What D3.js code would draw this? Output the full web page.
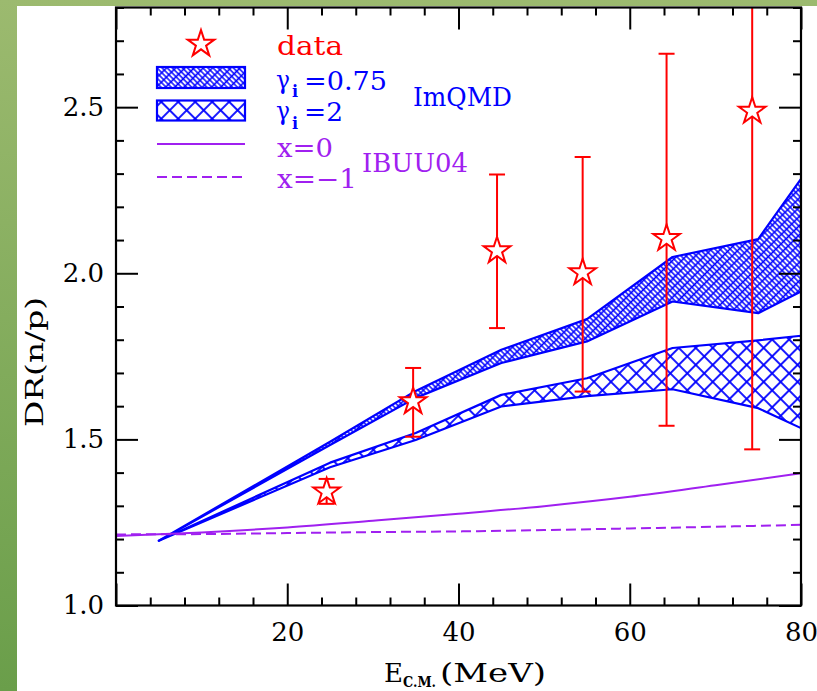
<!DOCTYPE html>
<html>
<head>
<meta charset="utf-8">
<script src="https://cdn.jsdelivr.net/npm/d3@7"></script>
<style>
  html, body { margin: 0; padding: 0; background: #ffffff; }
  svg { display: block; }
</style>
</head>
<body>
<div id="chart"></div>
<script>
// ---- data ----
// measured neutron/proton double ratio
const dataE  = [24.6, 34.7, 44.5, 54.5, 64.3, 74.3];
const dataDR = [1.342, 1.614, 2.068, 2.002, 2.105, 2.488];
const dataLo = [1.306, 1.508, 1.835, 1.644, 1.541, 1.470];
const dataHi = [1.381, 1.715, 2.297, 2.350, 2.661, 3.300];

// ImQMD bands
const simE    = [5, 25, 35, 45, 55, 65, 75, 80];
const g075Lo  = [1.195, 1.483, 1.625, 1.730, 1.795, 1.915, 1.880, 1.945];
const g075Hi  = [1.195, 1.493, 1.646, 1.770, 1.862, 2.049, 2.103, 2.284];
const g2Lo    = [1.195, 1.416, 1.498, 1.599, 1.630, 1.651, 1.594, 1.534];
const g2Hi    = [1.195, 1.430, 1.519, 1.634, 1.684, 1.775, 1.798, 1.812];

// IBUU04 curves
const ibuuE = [0, 10, 20, 30, 40, 50, 60, 70, 80];
const x0DR  = [1.209, 1.220, 1.235, 1.255, 1.276, 1.299, 1.327, 1.362, 1.398];
const xm1DR = [1.214, 1.215, 1.218, 1.221, 1.223, 1.227, 1.232, 1.237, 1.243];

// axis ticks
const xMajor = [0, 20, 40, 60, 80];
const xMinor = d3.range(0, 81, 4).filter(v => v % 20 !== 0);
const yMajor = [1.0, 1.5, 2.0, 2.5];
const yMinor = d3.range(10, 29).map(v => v / 10).filter(v => Math.round(v * 10) % 5 !== 0);

// ---- layout ----
const W = 817, H = 691;
const L = 116, R = 801, T = 7.5, B = 605.5;
const BLUE = "#0000ff", RED = "#ff0000", PURPLE = "#a020f0";
const FONT = "'DejaVu Serif', serif";

const svg = d3.select("#chart").append("svg")
  .attr("width", W).attr("height", H);

const defs = svg.append("defs");

// slide background
const bg = defs.append("linearGradient").attr("id", "bgGrad")
  .attr("x1", 0).attr("y1", 0).attr("x2", 0).attr("y2", 1);
bg.append("stop").attr("offset", 0).attr("stop-color", "#9cba6f");
bg.append("stop").attr("offset", 1).attr("stop-color", "#6a9e4a");
svg.append("rect").attr("width", W).attr("height", H).attr("fill", "url(#bgGrad)");
svg.append("rect").attr("x", 17).attr("y", 6).attr("width", W - 17).attr("height", H - 6).attr("fill", "#ffffff");

// hatch patterns (lines centred in the tile so their full width shows)
const dW = 6.5, dH = 3.6;
const pDense = defs.append("pattern").attr("id", "hatchDense")
  .attr("patternUnits", "userSpaceOnUse")
  .attr("width", dW).attr("height", dH)
  .attr("patternTransform", "rotate(45)");
pDense.append("line").attr("x1", dW / 2).attr("y1", 0).attr("x2", dW / 2).attr("y2", dH)
  .attr("stroke", BLUE).attr("stroke-width", 1.6);
pDense.append("line").attr("x1", 0).attr("y1", dH / 2).attr("x2", dW).attr("y2", dH / 2)
  .attr("stroke", BLUE).attr("stroke-width", 1.4);

const cS = 12;
const pCross = defs.append("pattern").attr("id", "hatchCross")
  .attr("patternUnits", "userSpaceOnUse")
  .attr("width", cS).attr("height", cS)
  .attr("patternTransform", "rotate(45)");
pCross.append("line").attr("x1", cS / 2).attr("y1", 0).attr("x2", cS / 2).attr("y2", cS)
  .attr("stroke", BLUE).attr("stroke-width", 1.8);
pCross.append("line").attr("x1", 0).attr("y1", cS / 2).attr("x2", cS).attr("y2", cS / 2)
  .attr("stroke", BLUE).attr("stroke-width", 1.8);

defs.append("clipPath").attr("id", "plotClip")
  .append("rect").attr("x", L).attr("y", T).attr("width", R - L).attr("height", B - T);

// ---- scales ----
const x = d3.scaleLinear().domain([0, 80]).range([L, R]);
const y = d3.scaleLinear().domain([1.0, 2.8]).range([B, T]);

const plot = svg.append("g").attr("clip-path", "url(#plotClip)");

// ImQMD bands
function band(lo, hi, pat) {
  const rows = simE.map((e, i) => ({ e, lo: lo[i], hi: hi[i] }));
  const area = d3.area().x(d => x(d.e)).y0(d => y(d.lo)).y1(d => y(d.hi));
  plot.append("path").datum(rows).attr("d", area)
    .attr("fill", `url(#${pat})`).attr("stroke", BLUE).attr("stroke-width", 2.2)
    .attr("stroke-linejoin", "round");
}
band(g075Lo, g075Hi, "hatchDense");
band(g2Lo, g2Hi, "hatchCross");

// IBUU04 curves
const curve = d3.line().x(d => x(d[0])).y(d => y(d[1])).curve(d3.curveMonotoneX);
plot.append("path").datum(ibuuE.map((e, i) => [e, x0DR[i]])).attr("d", curve)
  .attr("fill", "none").attr("stroke", PURPLE).attr("stroke-width", 2);
plot.append("path").datum(ibuuE.map((e, i) => [e, xm1DR[i]])).attr("d", curve)
  .attr("fill", "none").attr("stroke", PURPLE).attr("stroke-width", 2)
  .attr("stroke-dasharray", "10,5");

// measured points with error bars
const pts = dataE.map((e, i) => ({ e, v: dataDR[i], lo: dataLo[i], hi: dataHi[i] }));
const capW = 8;
const eb = plot.append("g").attr("stroke", RED).attr("stroke-width", 2).attr("fill", "none");
eb.selectAll("line.bar").data(pts).join("line").attr("class", "bar")
  .attr("x1", d => x(d.e)).attr("x2", d => x(d.e))
  .attr("y1", d => y(d.lo)).attr("y2", d => y(d.hi));
eb.selectAll("line.capLo").data(pts).join("line").attr("class", "capLo")
  .attr("x1", d => x(d.e) - capW).attr("x2", d => x(d.e) + capW)
  .attr("y1", d => y(d.lo)).attr("y2", d => y(d.lo));
eb.selectAll("line.capHi").data(pts).join("line").attr("class", "capHi")
  .attr("x1", d => x(d.e) - capW).attr("x2", d => x(d.e) + capW)
  .attr("y1", d => y(d.hi)).attr("y2", d => y(d.hi));

const starR = 14;
const star = d3.symbol(d3.symbolStar, starR * starR / 0.8908130915292852);
plot.selectAll("path.star").data(pts).join("path").attr("class", "star")
  .attr("d", star)
  .attr("transform", d => `translate(${x(d.e)},${y(d.v)})`)
  .attr("fill", "#ffffff").attr("stroke", RED).attr("stroke-width", 2)
  .attr("stroke-linejoin", "miter");

// ---- axes ----
function styleAxis(g) {
  g.select(".domain").remove();
  g.selectAll(".tick line").attr("stroke", "#000").attr("stroke-width", 2);
  g.selectAll(".tick text").attr("font-family", FONT).attr("font-size", 26).attr("fill", "#000");
}
const fmtX = d => (d === 0 ? "" : d3.format("d")(d));

svg.append("g").attr("transform", `translate(0,${B})`)
  .call(d3.axisBottom(x).tickValues(xMajor).tickSizeInner(-22).tickSizeOuter(0).tickPadding(17).tickFormat(fmtX))
  .call(styleAxis);
svg.append("g").attr("transform", `translate(0,${B})`)
  .call(d3.axisBottom(x).tickValues(xMinor).tickSizeInner(-8).tickSizeOuter(0).tickFormat(""))
  .call(styleAxis);
svg.append("g").attr("transform", `translate(0,${T})`)
  .call(d3.axisTop(x).tickValues(xMajor).tickSizeInner(-22).tickSizeOuter(0).tickFormat(""))
  .call(styleAxis);
svg.append("g").attr("transform", `translate(0,${T})`)
  .call(d3.axisTop(x).tickValues(xMinor).tickSizeInner(-8).tickSizeOuter(0).tickFormat(""))
  .call(styleAxis);

svg.append("g").attr("transform", `translate(${L},0)`)
  .call(d3.axisLeft(y).tickValues(yMajor).tickSizeInner(-22).tickSizeOuter(0).tickPadding(12).tickFormat(d3.format(".1f")))
  .call(styleAxis);
svg.append("g").attr("transform", `translate(${L},0)`)
  .call(d3.axisLeft(y).tickValues(yMinor).tickSizeInner(-8).tickSizeOuter(0).tickFormat(""))
  .call(styleAxis);
svg.append("g").attr("transform", `translate(${R},0)`)
  .call(d3.axisRight(y).tickValues(yMajor).tickSizeInner(-22).tickSizeOuter(0).tickFormat(""))
  .call(styleAxis);
svg.append("g").attr("transform", `translate(${R},0)`)
  .call(d3.axisRight(y).tickValues(yMinor).tickSizeInner(-8).tickSizeOuter(0).tickFormat(""))
  .call(styleAxis);

// frame
svg.append("rect").attr("x", L).attr("y", T).attr("width", R - L).attr("height", B - T)
  .attr("fill", "none").attr("stroke", "#000").attr("stroke-width", 2.2);

// ---- text helper ----
function label(str, px, py, opts = {}) {
  const t = svg.append("text").attr("x", px).attr("y", py)
    .attr("font-family", FONT).attr("font-size", opts.size || 26)
    .attr("fill", opts.color || "#000").text(str);
  if (opts.len) t.attr("textLength", opts.len).attr("lengthAdjust", "spacingAndGlyphs");
  if (opts.weight) t.attr("font-weight", opts.weight);
  if (opts.anchor) t.attr("text-anchor", opts.anchor);
  if (opts.rotate) t.attr("transform", `rotate(${opts.rotate},${px},${py})`);
  return t;
}

// axis titles
label("E", 384, 682, { size: 26 });
label("C.M.", 403, 687, { size: 14, len: 33, weight: "bold" });
label("(MeV)", 440, 682, { size: 26, len: 106 });
label("DR(n/p)", 43, 362, { size: 25, len: 130, anchor: "middle", rotate: -90 });

// ---- legend ----
const lx0 = 157, lx1 = 245;
svg.append("path").attr("d", star).attr("transform", "translate(201,44)")
  .attr("fill", "#ffffff").attr("stroke", RED).attr("stroke-width", 2);
label("data", 277, 55, { color: RED, len: 66 });

svg.append("rect").attr("x", lx0).attr("y", 67).attr("width", lx1 - lx0).attr("height", 21)
  .attr("fill", "url(#hatchDense)").attr("stroke", BLUE).attr("stroke-width", 2.2);
svg.append("rect").attr("x", lx0).attr("y", 100.5).attr("width", lx1 - lx0).attr("height", 20)
  .attr("fill", "url(#hatchCross)").attr("stroke", BLUE).attr("stroke-width", 2.2);
svg.append("line").attr("x1", lx0).attr("x2", lx1).attr("y1", 144).attr("y2", 144)
  .attr("stroke", PURPLE).attr("stroke-width", 2);
svg.append("line").attr("x1", lx0).attr("x2", lx1).attr("y1", 177).attr("y2", 177)
  .attr("stroke", PURPLE).attr("stroke-width", 2).attr("stroke-dasharray", "10,5");

label("γ", 276, 89, { color: BLUE, len: 14 });
label("i", 292, 97, { color: BLUE, size: 16, weight: "bold" });
label("=0.75", 304, 90, { color: BLUE, len: 83 });
label("γ", 276, 120, { color: BLUE, len: 14 });
label("i", 292, 129, { color: BLUE, size: 16, weight: "bold" });
label("=2", 304, 121, { color: BLUE, len: 39 });
label("x=0", 277, 156.5, { color: PURPLE, len: 56 });
label("x=\u22121", 277, 188, { color: PURPLE, len: 80 });

label("ImQMD", 413, 106, { color: BLUE, len: 99 });
label("IBUU04", 362, 171.5, { color: PURPLE, len: 106 });
</script>
</body>
</html>
